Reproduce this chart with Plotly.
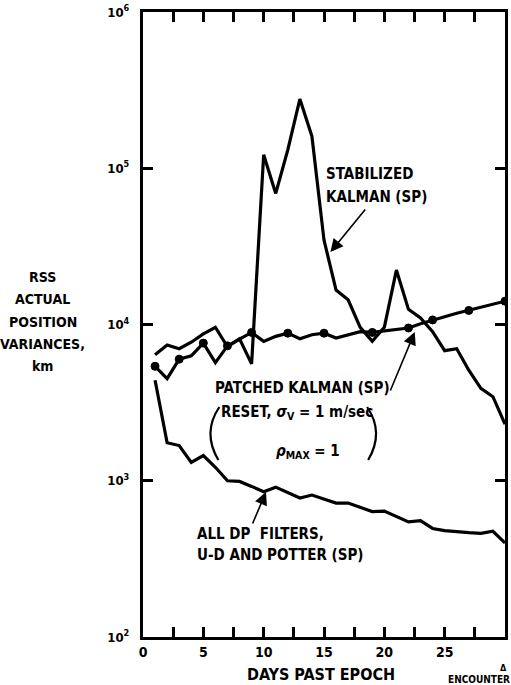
import plotly.graph_objects as go

# ---- data ----
days = list(range(1, 31))
stabilized_kalman = [6400, 7400, 7000, 7700, 8700, 9600, 7200, 8100, 5600, 122000,
                     69000, 131000, 277000, 160000, 34700, 16600, 14400, 9600, 7800, 9600,
                     22300, 12500, 11000, 9000, 6800, 7000, 5100, 3900, 3450, 2300]
patched_kalman = [5400, 4500, 6000, 6300, 7600, 5700, 7300, 8100, 8900, 7800,
                  8400, 8800, 8100, 8600, 8800, 8200, 8600, 9000, 8900, 9100,
                  9300, 9500, 10100, 10700, 11200, 11800, 12300, 12900, 13500, 14100]
patched_dot_days = [1, 3, 5, 7, 9, 12, 15, 19, 22, 24, 27, 30]
dp_filters = [4400, 1750, 1680, 1310, 1450, 1220, 1000, 990, 920, 850,
              910, 840, 775, 810, 760, 720, 720, 680, 635, 640,
              590, 545, 555, 495, 480, 470, 465, 460, 475, 400]

x_tick_vals = [0, 2.5, 5, 7.5, 10, 12.5, 15, 17.5, 20, 22.5, 25, 27.5, 30]
x_tick_text = ["0", "", "5", "", "10", "", "15", "", "20", "", "25", "", "30"]
y_tick_vals = [1e2, 1e3, 1e4, 1e5, 1e6]
y_tick_text = ["10<sup>2</sup>  ", "10<sup>3</sup>  ", "10<sup>4</sup>  ",
               "10<sup>5</sup>  ", "10<sup>6</sup>  "]

FONT = "Liberation Sans Narrow, DejaVu Sans Condensed, Arial Narrow, Liberation Sans, sans-serif"
W, H = 511, 685
ML, MR, MT, MB = 143, 3, 12, 48
PW, PH = W - ML - MR, H - MT - MB


def P(px, py):
    """pixel -> paper coordinates"""
    return (px - ML) / PW, (H - MB - py) / PH


fig = go.Figure()
fig.add_trace(go.Scatter(x=days, y=stabilized_kalman, mode="lines",
                         line=dict(color="black", width=3.2), showlegend=False))
fig.add_trace(go.Scatter(x=days, y=patched_kalman, mode="lines",
                         line=dict(color="black", width=3.2), showlegend=False))
fig.add_trace(go.Scatter(x=patched_dot_days,
                         y=[patched_kalman[days.index(d)] for d in patched_dot_days],
                         mode="markers",
                         marker=dict(color="black", size=8, opacity=1,
                                     line=dict(color="black", width=1)),
                         showlegend=False))
fig.add_trace(go.Scatter(x=days, y=dp_filters, mode="lines",
                         line=dict(color="black", width=3.2), showlegend=False))

annotations = []


def txt(text, px, py, size=15, xanchor="left"):
    x, y = P(px, py)
    annotations.append(dict(text=text, x=x, y=y, xref="paper", yref="paper",
                            xanchor=xanchor, yanchor="middle", showarrow=False,
                            font=dict(family=FONT, size=size, color="black", weight=700)))


def arrow(tip, tail):
    x, y = P(*tip)
    annotations.append(dict(text="", x=x, y=y, xref="paper", yref="paper",
                            ax=tail[0] - tip[0], ay=tail[1] - tip[1],
                            showarrow=True, arrowhead=2, arrowsize=1.6,
                            arrowwidth=1.6, arrowcolor="black"))


txt("STABILIZED", 325, 174)
txt("KALMAN (SP)", 325, 197)
arrow((332, 252), (368, 208))

txt("PATCHED KALMAN (SP)", 214, 388)
txt("RESET, <i>σ</i><sub>V</sub> = 1 m/sec", 220, 413)
txt("<i>ρ</i><sub>MAX</sub> = 1", 275, 451)
arrow((417, 332), (392, 392))

txt("ALL DP  FILTERS,", 195, 534)
txt("U-D AND POTTER (SP)", 195, 555)
arrow((267, 492), (253, 525))

for t, yy in [("RSS", 277), ("ACTUAL", 299), ("POSITION", 322), ("VARIANCES,", 344), ("km", 366)]:
    txt(t, 42, yy, size=14, xanchor="center")

txt("DAYS PAST EPOCH", 322, 674, size=16, xanchor="center")
txt("Δ", 506, 668, size=9, xanchor="center")
txt("ENCOUNTER", 449, 679, size=10)

shapes = []


def paren(top, mid, bot):
    x0, y0 = P(*top)
    xm, ym = P(*mid)
    x1, y1 = P(*bot)
    cx = 2 * xm - (x0 + x1) / 2
    cy = 2 * ym - (y0 + y1) / 2
    shapes.append(dict(type="path", xref="paper", yref="paper",
                       path=f"M {x0},{y0} Q {cx},{cy} {x1},{y1}",
                       line=dict(color="black", width=2.2)))


paren((220, 407), (211, 433), (219, 460))
paren((369, 407), (378, 433), (370, 460))

axis_common = dict(ticks="inside", ticklen=10, tickwidth=2.5, tickcolor="black",
                   showline=True, linewidth=3, linecolor="black", mirror="allticks",
                   showgrid=False, zeroline=False)

fig.update_layout(
    width=W, height=H,
    margin=dict(l=ML, r=MR, t=MT, b=MB),
    paper_bgcolor="white", plot_bgcolor="white",
    font=dict(family=FONT, color="black", weight=700),
    annotations=annotations, shapes=shapes,
    xaxis=dict(range=[0, 30], tickvals=x_tick_vals, ticktext=x_tick_text,
               tickfont=dict(family=FONT, size=14, weight=700), **axis_common),
    yaxis=dict(type="log", range=[2, 6], tickvals=y_tick_vals, ticktext=y_tick_text,
               tickfont=dict(family=FONT, size=13, weight=700), **axis_common),
)

fig.write_html("out.html")
